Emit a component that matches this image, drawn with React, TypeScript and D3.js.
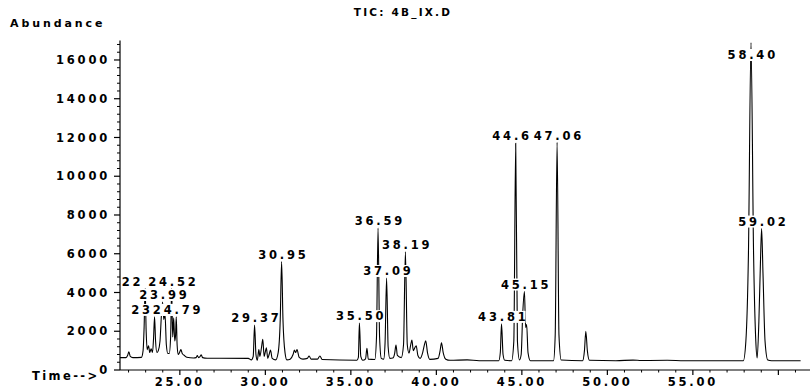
import React from "react";
import * as d3 from "d3";

const TITLE = "TIC: 4B_IX.D";
const Y_TITLE = "Abundance";
const X_TITLE = "Time-->";

// retention time (min) / abundance pairs
const TRACE_T = [
  21.5, 21.85, 21.95, 22.02, 22.1, 22.25, 22.75, 22.85, 22.91, 22.97, 23.03, 23.09, 23.17, 23.24, 23.32, 23.4,
  23.46, 23.52, 23.58, 23.66, 23.74, 23.84, 23.92, 23.99, 24.06, 24.13, 24.21, 24.3, 24.38, 24.46, 24.52, 24.58,
  24.64, 24.7, 24.75, 24.79, 24.84, 24.9, 24.98, 25.06, 25.14, 25.25, 25.4, 25.8, 25.95, 26.02, 26.1, 26.18,
  26.25, 26.33, 26.6, 29.0, 29.18, 29.29, 29.37, 29.45, 29.53, 29.62, 29.68, 29.78, 29.85, 29.93, 30.0, 30.06,
  30.14, 30.22, 30.3, 30.4, 30.6, 30.75, 30.87, 30.95, 31.03, 31.15, 31.26, 31.45, 31.62, 31.7, 31.77, 31.85,
  31.98, 32.2, 32.45, 32.56, 32.68, 33.05, 33.19, 33.32, 35.35, 35.44, 35.5, 35.58, 35.7, 35.86, 35.94, 36.02,
  36.4, 36.5, 36.59, 36.68, 36.78, 36.92, 37.0, 37.09, 37.18, 37.28, 37.45, 37.56, 37.64, 37.72, 37.95, 38.08,
  38.19, 38.3, 38.4, 38.5, 38.57, 38.65, 38.74, 38.82, 38.92, 39.05, 39.2, 39.3, 39.38, 39.48, 39.62, 40.1,
  40.22, 40.3, 40.4, 40.55, 40.8, 41.8, 42.5, 43.65, 43.74, 43.81, 43.9, 44.0, 44.4, 44.53, 44.64, 44.74,
  44.86, 44.96, 45.05, 45.15, 45.22, 45.28, 45.36, 45.5, 46.85, 46.95, 47.06, 47.17, 47.3, 48.55, 48.66, 48.74,
  48.83, 48.95, 50.5, 51.5, 52.0, 53.5, 54.5, 57.95, 58.1, 58.25, 58.4, 58.55, 58.68, 58.76, 58.86, 58.95,
  59.02, 59.1, 59.22, 59.38, 59.6, 61.3,
];
const TRACE_A = [
  640, 640, 760, 940, 700, 640, 650, 1000, 2200, 4200, 2000, 1050, 1250, 900, 1100, 900,
  1600, 2740, 1500, 900, 1000, 1500, 2800, 3510, 2600, 2900, 1300, 850, 850, 1700, 4200, 1700,
  2700, 1500, 1800, 2740, 1300, 800, 900, 1050, 850, 760, 660, 620, 640, 740, 640, 690,
  780, 640, 610, 600, 520, 700, 2320, 800, 500, 1050, 700, 1200, 1580, 700, 950, 1150,
  600, 800, 1030, 600, 520, 900, 2600, 5600, 2600, 900, 520, 560, 800, 1030, 900, 1050,
  650, 560, 600, 720, 560, 560, 720, 540, 500, 650, 2420, 700, 500, 580, 1120, 560,
  540, 1700, 7330, 1700, 600, 560, 1400, 4750, 1200, 600, 620, 850, 1290, 750, 640, 1300,
  6100, 1300, 870, 1300, 1550, 1000, 1150, 1250, 750, 600, 900, 1300, 1510, 900, 550, 600,
  1000, 1410, 900, 560, 500, 520, 480, 480, 900, 2380, 800, 500, 480, 1500, 11700, 1500,
  520, 800, 2900, 4050, 2200, 2350, 900, 480, 480, 1800, 11750, 1800, 520, 480, 1000, 2000,
  1000, 500, 480, 510, 490, 500, 480, 480, 1500, 6000, 16900, 6000, 1500, 620, 2500, 5500,
  7300, 5000, 1500, 520, 480, 480,
];

const PEAK_LABELS = [
  "22.97", "23.52", "23.99", "24.52", "24.79", "29.37", "30.95", "35.50", "36.59", "37.09",
  "38.19", "43.81", "44.64", "45.15", "47.06", "58.40", "59.02",
];

const Y_TICKS = [0, 2000, 4000, 6000, 8000, 10000, 12000, 14000, 16000];
const X_TICKS = [25, 30, 35, 40, 45, 50, 55, 60];
const X_TICK_LABELS = ["25.00", "30.00", "35.00", "40.00", "45.00", "50.00", "55.00", ""];

const W = 810;
const H = 391;
const FONT = "'DejaVu Sans', sans-serif";
const LABEL_W = 48;
const CHAR_W = 9.6;

export default function App() {
  const x = d3.scaleLinear().domain([21.5, 61.3]).range([120, 800.6]);
  const y = d3.scaleLinear().domain([0, 17000]).range([370, 40.6]);

  const pts = TRACE_T.map((t, i) => [t, TRACE_A[i]] as [number, number]);
  const line = d3
    .line<[number, number]>()
    .x((d) => x(d[0]))
    .y((d) => y(d[1]))
    .curve(d3.curveMonotoneX);

  const minorY = d3.range(0, 17001, 400).filter((v) => v % 2000 !== 0);
  const minorX = d3.range(22, 62, 1).filter((v) => v % 5 !== 0);

  const textStyle = {
    fontFamily: FONT,
    fontWeight: 700,
    fontSize: 11.5,
    letterSpacing: 2.8,
  } as React.CSSProperties;

  const placed = PEAK_LABELS.map((s) => {
    const t = parseFloat(s);
    let best = 0;
    TRACE_T.forEach((tt, i) => {
      if (Math.abs(tt - t) < Math.abs(TRACE_T[best] - t)) best = i;
    });
    const cy = Math.max(y(TRACE_A[best]) - 7, 55);
    return { s, left: x(t) - LABEL_W / 2, cy };
  });
  // a later label drawn on the same row hides the tail of an earlier one (as in the instrument printout)
  const labels = placed.map((l, i) => {
    let shown = l.s;
    for (let j = i + 1; j < placed.length; j++) {
      const o = placed[j];
      if (Math.abs(o.cy - l.cy) < 6 && o.left < l.left + LABEL_W && o.left > l.left) {
        const n = Math.max(1, Math.floor((o.left - l.left + 2) / CHAR_W));
        shown = l.s.slice(0, n);
      }
    }
    return { ...l, shown };
  });

  return (
    <svg
      width={W}
      height={H}
      style={{ position: "absolute", left: 0, top: 0, background: "#fff" }}
    >
      <rect x={0} y={0} width={W} height={H} fill="#fff" />
      <text x={403} y={16} textAnchor="middle" style={{ ...textStyle, fontSize: 10.5, letterSpacing: 2.2 }} fill="#000">
        {TITLE}
      </text>
      <text x={10} y={27} style={{ ...textStyle, fontSize: 11, letterSpacing: 2.9 }} fill="#000">
        {Y_TITLE}
      </text>

      {/* y axis */}
      <line x1={120} x2={120} y1={y(17000)} y2={y(0)} stroke="#000" strokeWidth={1.2} />
      {Y_TICKS.map((v) => (
        <g key={"yt" + v}>
          <line x1={114} x2={120} y1={y(v)} y2={y(v)} stroke="#000" strokeWidth={1.2} />
          <text x={110} y={y(v) + 4.2} textAnchor="end" style={textStyle} fill="#000">
            {String(v)}
          </text>
        </g>
      ))}
      {minorY.map((v) => (
        <line key={"ym" + v} x1={117} x2={120} y1={y(v)} y2={y(v)} stroke="#000" strokeWidth={1} />
      ))}

      {/* x axis */}
      <line x1={120} x2={810} y1={370} y2={370} stroke="#000" strokeWidth={1} />
      {X_TICKS.map((v, i) => (
        <g key={"xt" + v}>
          <line x1={x(v)} x2={x(v)} y1={370} y2={375} stroke="#000" strokeWidth={1.2} />
          <text x={x(v)} y={386} textAnchor="middle" style={textStyle} fill="#000">
            {X_TICK_LABELS[i]}
          </text>
        </g>
      ))}
      {minorX.map((v) => (
        <line key={"xm" + v} x1={x(v)} x2={x(v)} y1={370} y2={372.5} stroke="#000" strokeWidth={1} />
      ))}
      <text x={32} y={380} style={{ ...textStyle, letterSpacing: 2.4 }} fill="#000">
        {X_TITLE}
      </text>

      {/* trace */}
      <path d={line(pts) || ""} fill="none" stroke="#000" strokeWidth={1.1} />

      {/* peak labels */}
      {labels.map((l) => (
        <g key={"pl" + l.s}>
          <rect x={l.left} y={l.cy - 6} width={LABEL_W} height={12} fill="#fff" />
          <text x={l.left + 0.6} y={l.cy + 4.2} style={textStyle} fill="#000">
            {l.shown}
          </text>
        </g>
      ))}
    </svg>
  );
}
